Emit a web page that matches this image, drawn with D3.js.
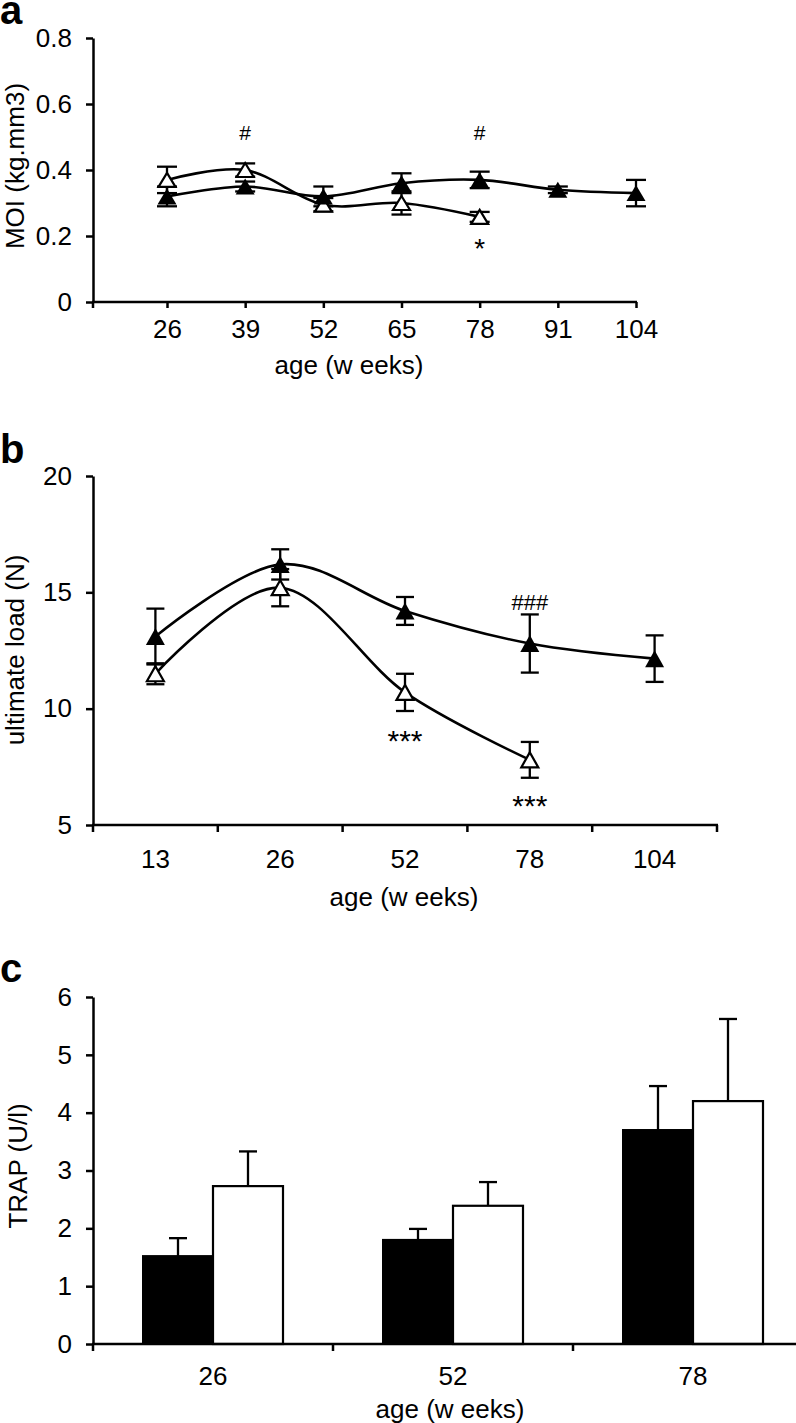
<!DOCTYPE html>
<html>
<head>
<meta charset="utf-8">
<script src="https://cdn.jsdelivr.net/npm/d3@7"></script>
<style>
  html, body { margin: 0; padding: 0; background: #fff; }
  svg { display: block; }
  text { font-family: "Liberation Sans", Arial, Helvetica, sans-serif; fill: #000; }
</style>
</head>
<body>
<svg id="chart" width="796" height="1423"></svg>
<script>
// ---------- DATA ----------
// Panel a: MOI (kg.mm3) by age (weeks)
const weeksA = [26, 39, 52, 65, 78, 91, 104];
const moiFilled = [0.32, 0.35, 0.32, 0.36, 0.37, 0.34, 0.33];
const moiFilledErr = [0.03, 0.015, 0.03, 0.03, 0.025, 0.01, 0.04];
const weeksAOpen = [26, 39, 52, 65, 78];
const moiOpen = [0.37, 0.40, 0.295, 0.30, 0.258];
const moiOpenErr = [0.04, 0.02, 0.02, 0.035, 0.015];
const ticksAY = [0, 0.2, 0.4, 0.6, 0.8];
const annotA = [
  { week: 39, value: 0.515, label: "#" },
  { week: 78, value: 0.515, label: "#" },
  { week: 78, value: 0.182, label: "*" }
];

// Panel b: ultimate load (N) by age (weeks)
const catsB = ["13", "26", "52", "78", "104"];
const loadFilled = [13.1, 16.2, 14.2, 12.8, 12.15];
const loadFilledErr = [1.2, 0.65, 0.6, 1.25, 1.0];
const catsBOpen = ["13", "26", "52", "78"];
const loadOpen = [11.5, 15.2, 10.7, 7.8];
const loadOpenErr = [0.45, 0.8, 0.8, 0.77];
const ticksBY = [5, 10, 15, 20];
const annotB = [
  { cat: "78", value: 14.58, label: "###" },
  { cat: "52", value: 8.95, label: "***" },
  { cat: "78", value: 6.16, label: "***" }
];

// Panel c: TRAP (U/l) by age (weeks)
const catsC = ["26", "52", "78"];
const trapFilled = [1.52, 1.80, 3.70];
const trapFilledErr = [0.31, 0.19, 0.76];
const trapOpen = [2.73, 2.39, 4.20];
const trapOpenErr = [0.60, 0.41, 1.42];
const ticksCY = [0, 1, 2, 3, 4, 5, 6];

const xTitle = "age (w eeks)";

// ---------- DRAWING ----------
const svg = d3.select("#chart");
svg.append("rect").attr("width", 796).attr("height", 1423).attr("fill", "#fff");

const AX = 2.5, FS = 26;
const curve = d3.curveCardinal.tension(0);

function styleAxis(g) {
  g.attr("font-size", null).attr("font-family", null);
  g.selectAll("path, line").attr("stroke", "#000").attr("stroke-width", AX);
  g.selectAll("text").attr("font-size", FS).attr("fill", "#000");
}
function tri(cx, cy, hw, hh) {
  return `M${cx},${cy - hh}L${cx + hw},${cy + hh}L${cx - hw},${cy + hh}Z`;
}
function panelLetter(t, y) {
  svg.append("text").attr("x", 0).attr("y", y).attr("font-size", 40)
    .attr("font-weight", "bold").text(t);
}
function yTitle(t, x, cy) {
  svg.append("text").attr("transform", `translate(${x},${cy}) rotate(-90)`)
    .attr("text-anchor", "middle").attr("font-size", FS).text(t);
}
function xTitleText(cx, y) {
  svg.append("text").attr("x", cx).attr("y", y).attr("text-anchor", "middle")
    .attr("font-size", FS).text(xTitle);
}
function errBars(g, xs, ys, errs, yScale, capHalf) {
  xs.forEach((x, i) => {
    const y1 = yScale(ys[i] - errs[i]), y2 = yScale(ys[i] + errs[i]);
    g.append("line").attr("x1", x).attr("x2", x).attr("y1", y1).attr("y2", y2);
    g.append("line").attr("x1", x - capHalf).attr("x2", x + capHalf).attr("y1", y1).attr("y2", y1);
    g.append("line").attr("x1", x - capHalf).attr("x2", x + capHalf).attr("y1", y2).attr("y2", y2);
  });
  g.attr("stroke", "#000").attr("stroke-width", 2.3);
}

// ===== Panel a =====
(function () {
  const x = d3.scaleLinear().domain([26, 104]).range([167, 636]);
  const y = d3.scaleLinear().domain([0, 0.8]).range([302, 38]);
  const left = 93, bottom = 302, right = 636;

  panelLetter("a", 24);

  const gy = svg.append("g").attr("transform", `translate(${left},0)`)
    .call(d3.axisLeft(y).tickValues(ticksAY).tickSize(7).tickSizeOuter(0).tickPadding(14)
      .tickFormat(d => d === 0 ? "0" : d3.format(".1f")(d)));
  styleAxis(gy);

  const gx = svg.append("g").attr("transform", `translate(0,${bottom})`)
    .call(d3.axisBottom(x).tickValues(weeksA).tickSize(6).tickSizeOuter(0).tickFormat(d => d));
  gx.select(".domain").remove();
  styleAxis(gx);
  gx.selectAll("text").attr("y", 36).attr("dy", null);
  svg.append("line").attr("x1", left - 1).attr("x2", right + 1).attr("y1", bottom).attr("y2", bottom)
    .attr("stroke", "#000").attr("stroke-width", AX);
  svg.append("line").attr("x1", left).attr("x2", left).attr("y1", bottom).attr("y2", bottom + 6)
    .attr("stroke", "#000").attr("stroke-width", AX);

  yTitle("MOI (kg.mm3)", 24, 166);
  xTitleText(349, 374);

  const line = d3.line().x(d => x(d[0])).y(d => y(d[1])).curve(curve);
  svg.append("path").attr("d", line(weeksA.map((w, i) => [w, moiFilled[i]])))
    .attr("fill", "none").attr("stroke", "#000").attr("stroke-width", 2.6);
  svg.append("path").attr("d", line(weeksAOpen.map((w, i) => [w, moiOpen[i]])))
    .attr("fill", "none").attr("stroke", "#000").attr("stroke-width", 2.6);

  errBars(svg.append("g"), weeksA.map(x), moiFilled, moiFilledErr, y, 10);
  errBars(svg.append("g"), weeksAOpen.map(x), moiOpen, moiOpenErr, y, 10);

  svg.append("g").selectAll("path").data(weeksAOpen).join("path")
    .attr("d", (w, i) => tri(x(w), y(moiOpen[i]), 8.5, 7))
    .attr("fill", "#fff").attr("stroke", "#000").attr("stroke-width", 2.2);
  svg.append("g").selectAll("path").data(weeksA).join("path")
    .attr("d", (w, i) => tri(x(w), y(moiFilled[i]), 9.5, 8))
    .attr("fill", "#000");

  svg.append("g").selectAll("text").data(annotA).join("text")
    .attr("x", d => x(d.week))
    .attr("y", d => y(d.value) + (d.label[0] === "#" ? 7.5 : 16))
    .attr("text-anchor", "middle")
    .attr("font-size", d => d.label[0] === "#" ? 21 : 28)
    .text(d => d.label);
})();

// ===== Panel b =====
(function () {
  const x = d3.scaleBand().domain(catsB).range([93, 717]).padding(0);
  const cx = c => x(c) + x.bandwidth() / 2;
  const y = d3.scaleLinear().domain([5, 20]).range([825, 476]);
  const left = 93, bottom = 825;

  panelLetter("b", 463);

  const gy = svg.append("g").attr("transform", `translate(${left},0)`)
    .call(d3.axisLeft(y).tickValues(ticksBY).tickSize(7).tickSizeOuter(0).tickPadding(14));
  styleAxis(gy);

  const gx = svg.append("g").attr("transform", `translate(0,${bottom})`)
    .call(d3.axisBottom(x).tickSize(0).tickSizeOuter(0));
  gx.select(".domain").remove();
  styleAxis(gx);
  gx.selectAll("text").attr("y", 43).attr("dy", null);
  svg.append("line").attr("x1", left - 1).attr("x2", x.range()[1] + 1).attr("y1", bottom).attr("y2", bottom)
    .attr("stroke", "#000").attr("stroke-width", AX);
  const bounds = catsB.map(c => x(c)).concat([x.range()[1]]);
  svg.append("g").selectAll("line").data(bounds).join("line")
    .attr("x1", d => d).attr("x2", d => d).attr("y1", bottom).attr("y2", bottom + 7)
    .attr("stroke", "#000").attr("stroke-width", AX);

  yTitle("ultimate load (N)", 24, 650);
  xTitleText(404, 906);

  const line = d3.line().x(d => cx(d[0])).y(d => y(d[1])).curve(curve);
  svg.append("path").attr("d", line(catsB.map((c, i) => [c, loadFilled[i]])))
    .attr("fill", "none").attr("stroke", "#000").attr("stroke-width", 2.6);
  svg.append("path").attr("d", line(catsBOpen.map((c, i) => [c, loadOpen[i]])))
    .attr("fill", "none").attr("stroke", "#000").attr("stroke-width", 2.6);

  errBars(svg.append("g"), catsB.map(cx), loadFilled, loadFilledErr, y, 9);
  errBars(svg.append("g"), catsBOpen.map(cx), loadOpen, loadOpenErr, y, 9);

  svg.append("g").selectAll("path").data(catsBOpen).join("path")
    .attr("d", (c, i) => tri(cx(c), y(loadOpen[i]), 8.5, 7.5))
    .attr("fill", "#fff").attr("stroke", "#000").attr("stroke-width", 2.2);
  svg.append("g").selectAll("path").data(catsB).join("path")
    .attr("d", (c, i) => tri(cx(c), y(loadFilled[i]), 9.5, 8.5))
    .attr("fill", "#000");

  svg.append("g").selectAll("text").data(annotB).join("text")
    .attr("x", d => cx(d.cat))
    .attr("y", d => y(d.value) + (d.label[0] === "#" ? 8 : 17.5))
    .attr("text-anchor", "middle")
    .attr("font-size", d => d.label[0] === "#" ? 22 : 30)
    .text(d => d.label);
})();

// ===== Panel c =====
(function () {
  const x = d3.scaleBand().domain(catsC).range([93, 813]).padding(0);
  const cx = c => x(c) + x.bandwidth() / 2;
  const y = d3.scaleLinear().domain([0, 6]).range([1344, 997]);
  const left = 93, bottom = 1344, barW = 70;

  panelLetter("c", 982);

  // bars
  svg.append("g").selectAll("rect").data(catsC).join("rect")
    .attr("x", c => cx(c) - barW).attr("width", barW)
    .attr("y", (c, i) => y(trapFilled[i])).attr("height", (c, i) => bottom - y(trapFilled[i]))
    .attr("fill", "#000").attr("stroke", "#000").attr("stroke-width", 2);
  svg.append("g").selectAll("rect").data(catsC).join("rect")
    .attr("x", c => cx(c)).attr("width", barW)
    .attr("y", (c, i) => y(trapOpen[i])).attr("height", (c, i) => bottom - y(trapOpen[i]))
    .attr("fill", "#fff").attr("stroke", "#000").attr("stroke-width", 2.2);

  // upward error bars
  function upErr(xs, vals, errs) {
    const g = svg.append("g").attr("stroke", "#000").attr("stroke-width", 2.3);
    xs.forEach((xx, i) => {
      const y1 = y(vals[i]), y2 = y(vals[i] + errs[i]);
      g.append("line").attr("x1", xx).attr("x2", xx).attr("y1", y1).attr("y2", y2);
      g.append("line").attr("x1", xx - 9).attr("x2", xx + 9).attr("y1", y2).attr("y2", y2);
    });
  }
  upErr(catsC.map(c => cx(c) - barW / 2), trapFilled, trapFilledErr);
  upErr(catsC.map(c => cx(c) + barW / 2), trapOpen, trapOpenErr);

  const gy = svg.append("g").attr("transform", `translate(${left},0)`)
    .call(d3.axisLeft(y).tickValues(ticksCY).tickSize(7).tickSizeOuter(0).tickPadding(14)
      .tickFormat(d3.format("d")));
  styleAxis(gy);

  const gx = svg.append("g").attr("transform", `translate(0,${bottom})`)
    .call(d3.axisBottom(x).tickSize(0).tickSizeOuter(0));
  gx.select(".domain").remove();
  styleAxis(gx);
  gx.selectAll("text").attr("y", 41).attr("dy", null);
  svg.append("line").attr("x1", left - 1).attr("x2", x.range()[1]).attr("y1", bottom).attr("y2", bottom)
    .attr("stroke", "#000").attr("stroke-width", AX);
  const bounds = catsC.map(c => x(c));
  svg.append("g").selectAll("line").data(bounds).join("line")
    .attr("x1", d => d).attr("x2", d => d).attr("y1", bottom).attr("y2", bottom + 7)
    .attr("stroke", "#000").attr("stroke-width", AX);

  yTitle("TRAP (U/l)", 27, 1166);
  xTitleText(450, 1418);
})();
</script>
</body>
</html>
